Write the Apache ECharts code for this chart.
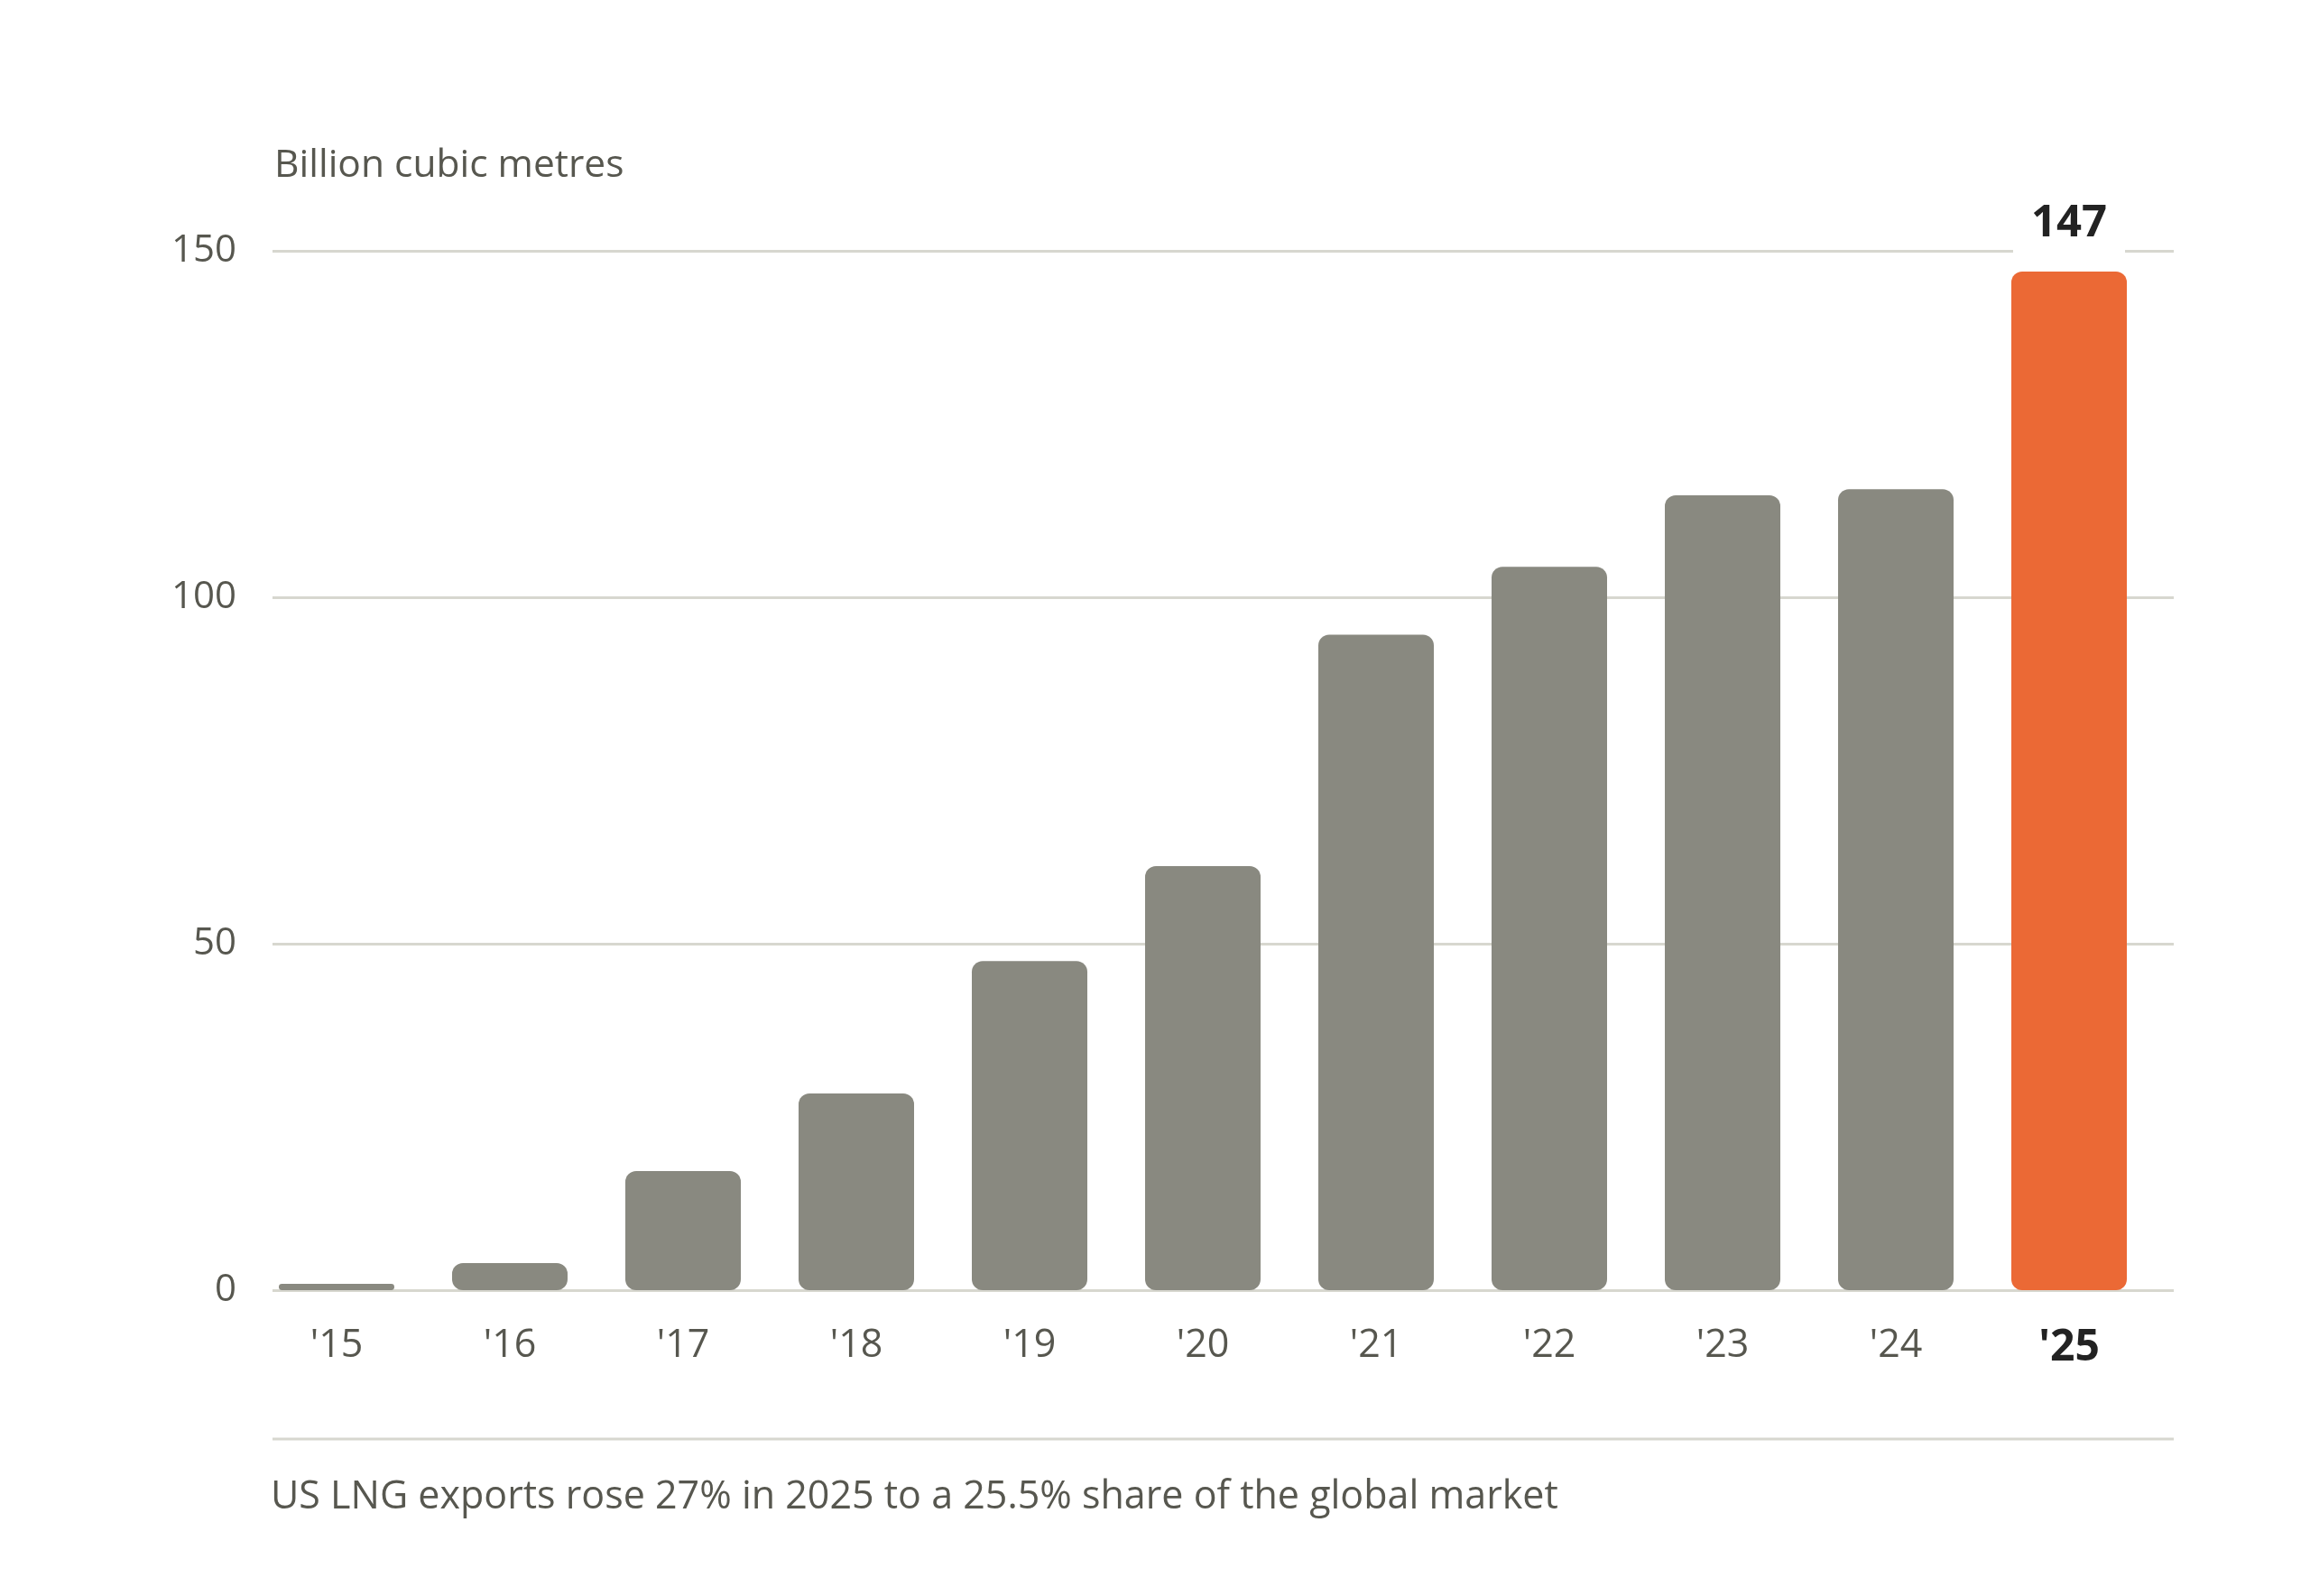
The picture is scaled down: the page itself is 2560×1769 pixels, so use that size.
<!DOCTYPE html>
<html>
<head>
<meta charset="utf-8">
<title>US LNG exports</title>
<script src="https://cdn.jsdelivr.net/npm/echarts@6/dist/echarts.min.js"></script>
<style>
    html, body {margin: 0; padding: 0; background: #fff;}
    #main {width: 2560px; height: 1769px;}
</style>
</head>
<body>
<div id="main"></div>
<script>
// data
const years = ["'15", "'16", "'17", "'18", "'19", "'20", "'21", "'22", "'23", "'24", "'25"];
const exports_bcm = [0.9, 3.9, 17.2, 28.4, 47.5, 61.2, 94.6, 104.4, 114.7, 115.6, 147];
const yTicks = [0, 50, 100, 150];

const unitText = 'Billion cubic metres';
const noteText = 'US LNG exports rose 27% in 2025 to a 25.5% share of the global market';

const FONT = '"Open Sans", "Noto Sans", sans-serif';
const GREY = '#898980';
const ORANGE = '#eb6935';
const TEXT = '#57574f';
const DARK = '#222222';
const RULE = '#d7d7cf';

const last = years.length - 1;

const myChart = echarts.init(document.getElementById('main'));

myChart.setOption({
    backgroundColor: '#ffffff',
    animation: false,
    textStyle: {fontFamily: FONT},
    title: {
        text: unitText,
        left: 299,
        top: 157,
        textStyle: {fontFamily: FONT, fontSize: 42.5, fontWeight: 'normal', color: TEXT}
    },
    grid: [
        // grid lines + y labels
        {left: 302, right: 151, top: 278, height: 1152},
        // bars
        {left: 277, width: 2112, top: 278, height: 1152}
    ],
    xAxis: [
        {gridIndex: 0, type: 'value', min: 0, max: 1, show: false},
        {
            gridIndex: 1,
            type: 'category',
            data: years,
            axisLine: {show: false},
            axisTick: {show: false},
            axisLabel: {
                interval: 0,
                margin: 40,
                fontFamily: FONT,
                fontSize: 43,
                color: TEXT,
                formatter: function (v, i) {
                    return i === last ? '{hl|' + v + '}' : v;
                },
                rich: {
                    hl: {fontFamily: FONT, fontSize: 48, fontWeight: 'bold', color: DARK}
                }
            }
        }
    ],
    yAxis: [
        {
            gridIndex: 0,
            type: 'value',
            min: yTicks[0],
            max: yTicks[yTicks.length - 1],
            interval: 50,
            axisLine: {show: false},
            axisTick: {show: false},
            axisLabel: {margin: 40, fontFamily: FONT, fontSize: 42, color: TEXT, padding: [6, 0, 0, 0]},
            splitLine: {lineStyle: {color: RULE, width: 3}}
        },
        {
            gridIndex: 1,
            type: 'value',
            min: yTicks[0],
            max: yTicks[yTicks.length - 1],
            show: false,
            splitLine: {show: false}
        }
    ],
    series: [
        {
            type: 'bar',
            xAxisIndex: 1,
            yAxisIndex: 1,
            barWidth: 128,
            data: exports_bcm.map(function (v, i) {
                const item = {value: v};
                if (i === last) {
                    item.itemStyle = {color: ORANGE};
                    // white box hides the 150 grid line behind the value
                    item.label = {
                        show: true,
                        position: 'top',
                        distance: 8,
                        formatter: String(v),
                        fontFamily: FONT,
                        fontSize: 49,
                        fontWeight: 'bold',
                        color: DARK,
                        backgroundColor: '#ffffff',
                        padding: [4, 20, 20, 20]
                    };
                }
                return item;
            }),
            itemStyle: {color: GREY, borderRadius: 12}
        }
    ],
    graphic: [
        {
            type: 'line',
            shape: {x1: 302, y1: 1595, x2: 2409, y2: 1595},
            style: {stroke: RULE, lineWidth: 3}
        },
        {
            type: 'text',
            left: 300,
            top: 1638,
            style: {text: noteText, font: '43px ' + FONT, fill: TEXT}
        }
    ]
});
</script>
</body>
</html>
